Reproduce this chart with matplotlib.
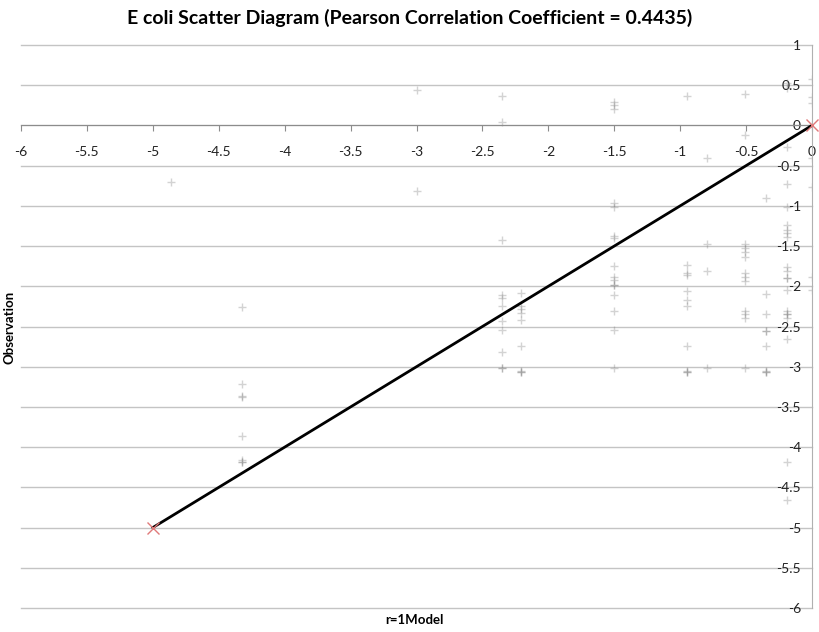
import numpy as np
import matplotlib
matplotlib.use("Agg")
import matplotlib.pyplot as plt

plt.rcParams['font.family'] = ['Lato', 'DejaVu Sans']

# model prediction levels (r=1) and the observations recorded at each level
model_levels = [-4.86, -4.32, -3.0, -2.35, -2.21, -1.50, -0.95, -0.80, -0.51, -0.35, -0.19, 0.0]
observations = [
    [-0.70],
    [-2.26, -3.21, -3.36, -3.38, -3.86, -4.16, -4.18, -4.18],
    [0.44, -0.82],
    [0.37, 0.04, -1.42, -2.11, -2.15, -2.25, -2.43, -2.54, -2.82, -3.02, -3.02],
    [-2.08, -2.25, -2.28, -2.33, -2.42, -2.74, -3.05, -3.06, -3.06],
    [0.29, 0.26, 0.21, -0.97, -1.01, -1.37, -1.40, -1.75, -1.88, -1.92, -1.98, -1.98,
     -2.11, -2.31, -2.54, -3.02],
    [0.36, -1.73, -1.83, -1.86, -2.06, -2.17, -2.25, -2.74, -3.05, -3.06, -3.06],
    [-0.41, -1.47, -1.81, -3.01],
    [0.39, -0.12, -1.47, -1.52, -1.57, -1.63, -1.84, -1.88, -1.93, -2.31, -2.35, -2.40, -3.02],
    [-0.90, -2.10, -2.34, -2.56, -2.56, -2.74, -3.05, -3.06, -3.06],
    [0.53, 0.47, -0.27, -0.73, -1.01, -1.24, -1.30, -1.34, -1.39, -1.76, -1.81, -1.90,
     -1.90, -2.05, -2.31, -2.35, -2.35, -2.39, -2.66, -4.19, -4.66],
    [0.58, 0.35, 0.28, 0.0, -0.41, -0.77, -1.89, -2.05],
]

# 1:1 reference line endpoints
line_x = [-5, 0]
line_y = [-5, 0]

xs = np.concatenate([[m] * len(obs) for m, obs in zip(model_levels, observations)])
ys = np.concatenate(observations)

fig = plt.figure(figsize=(8.19, 6.32), dpi=100)
ax = fig.add_axes([21 / 819, 1 - 608 / 632, (812 - 21) / 819, (608 - 45) / 632])

ax.set_xlim(-6, 0)
ax.set_ylim(-6, 1)

# horizontal gridlines, drawn unclipped so the top and bottom ones show fully
for yv in np.arange(-6, 1.01, 0.5):
    ax.axhline(yv, color='#c4c4c4', linewidth=1, zorder=0, clip_on=False)

ax.plot(xs, ys, linestyle='none', marker='+', markersize=6, mew=1,
        color='#7a7a7a', alpha=0.33, zorder=2)
ax.plot(line_x, line_y, color='black', linewidth=2, zorder=3)
ax.plot(line_x, line_y, linestyle='none', marker='x', markersize=9, mew=1,
        color='#e07a7a', zorder=4, clip_on=False)

ax.spines['top'].set_visible(False)
ax.spines['right'].set_visible(False)
ax.spines['bottom'].set_position(('data', 0))
ax.spines['left'].set_position(('data', 0))
ax.spines['bottom'].set_color('#8c8c8c')
ax.spines['left'].set_color('#b0b0b0')

ax.set_xticks(np.arange(-6, 0.01, 0.5))
ax.set_yticks(np.arange(-6, 1.01, 0.5))
ax.set_xticklabels(['%g' % v for v in np.arange(-6, 0.01, 0.5)])
ax.set_yticklabels(['%g' % v for v in np.arange(-6, 1.01, 0.5)])
ax.tick_params(axis='x', direction='out', length=4, color='#8c8c8c',
               labelsize=10, pad=11, labelcolor='#222222')
ax.tick_params(axis='y', direction='in', length=0, pad=8,
               labelsize=10, labelcolor='#222222')

fig.text(0.5, 0.972, 'E coli Scatter Diagram (Pearson Correlation Coefficient = 0.4435)',
         ha='center', va='center', fontsize=14, fontweight='bold')
fig.text(414 / 819, 1 - 620 / 632, 'r=1Model', ha='center', va='center',
         fontsize=9.5, fontweight='bold')
fig.text(10 / 819, 1 - 327 / 632, 'Observation', ha='center', va='center',
         rotation=90, fontsize=9.5, fontweight='bold')

fig.savefig('out.png', dpi=100)
